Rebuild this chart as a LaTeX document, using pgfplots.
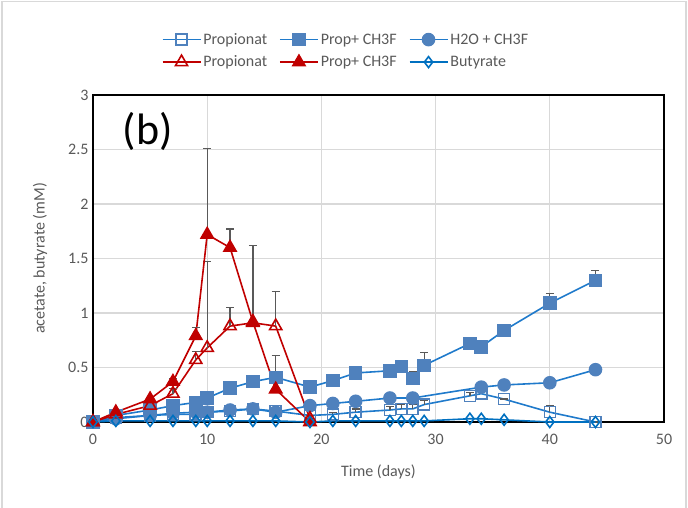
\documentclass[border=0pt]{standalone}
\usepackage{fontspec}
\setmainfont{Carlito}
\usepackage{pgfplots}
\pgfplotsset{compat=1.18}
\usepackage{pgfplotstable}
\definecolor{bmark}{HTML}{4F81BD}
\definecolor{bline}{HTML}{1F7ACB}
\definecolor{dblue}{HTML}{0070C0}
\definecolor{dred}{HTML}{C00000}
\definecolor{errc}{HTML}{595959}
\definecolor{gridc}{HTML}{D9D9D9}
\definecolor{txt}{HTML}{595959}

\pgfplotstableread{
x y e
0 0 0
2 0.04 0
5 0.06 0
7 0.07 0
9 0.07 0
10 0.09 0
12 0.1 0
14 0.12 0
16 0.1 0
19 0.06 0
21 0.07 0.02
23 0.09 0.03
26 0.11 0.03
27 0.12 0.04
28 0.12 0.04
29 0.16 0.04
33 0.24 0.03
34 0.26 0.03
36 0.21 0
40 0.09 0.06
44 0 0
}\propblue

\pgfplotstableread{
x y e
0 0 0
2 0.06 0
5 0.11 0
7 0.15 0
9 0.18 0
10 0.22 0
12 0.31 0
14 0.37 0
16 0.41 0
19 0.32 0
21 0.38 0
23 0.45 0
26 0.47 0
27 0.51 0
28 0.40 0.06
29 0.52 0.12
33 0.72 0
34 0.69 0.03
36 0.84 0.05
40 1.09 0.09
44 1.30 0.09
}\propchblue

\pgfplotstableread{
x y
0 0
2 0.03
5 0.06
7 0.08
9 0.09
10 0.09
12 0.11
14 0.12
16 0.09
19 0.15
21 0.17
23 0.19
26 0.22
28 0.22
34 0.32
36 0.34
40 0.36
44 0.48
}\water

\pgfplotstableread{
x y e
0 0 0
2 0.07 0
5 0.15 0
7 0.26 0.05
9 0.57 0.08
10 0.68 0.79
12 0.88 0.17
14 0.91 0
16 0.88 0.32
19 0.03 0
}\propred

\pgfplotstableread{
x y e
0 0 0
2 0.09 0
5 0.21 0
7 0.37 0.03
9 0.79 0.08
10 1.72 0.79
12 1.60 0.17
14 0.92 0.70
16 0.30 0.31
19 0 0
}\propchred

\pgfplotstableread{
x y
0 0
2 0.01
5 0.01
7 0.01
9 0.01
10 0.01
12 0.01
14 0.01
16 0.01
19 0
21 0.01
23 0.01
26 0.01
27 0.01
28 0.01
29 0.01
33 0.03
34 0.03
36 0.02
40 0
44 0
}\butyrate

\begin{document}
\begin{tikzpicture}[x=1pt,y=1pt]
\useasboundingbox (0,0) rectangle (688,507);
\draw[gridc, line width=1.5pt] (2,-5) rectangle (686,505.5);
\begin{axis}[
  at={(93pt,85pt)}, anchor=south west,
  scale only axis, width=571pt, height=327pt,
  xmin=0, xmax=50, ymin=0, ymax=3,
  xtick={0,10,...,50},
  ytick={0,0.5,1,1.5,2,2.5,3},
  yticklabels={0,0.5,1,1.5,2,2.5,3},
  /pgf/number format/assume math mode=true,
  grid=major,
  major grid style={gridc, line width=1.2pt},
  axis line style={black, line width=1.3pt},
  major tick length=0pt,
  tick label style={font=\fontsize{16}{19}\selectfont, text=txt},
  xticklabel style={yshift=-9pt},
  yticklabel style={xshift=-1pt},
  xlabel={Time (days)},
  ylabel={acetate, butyrate (mM)},
  every axis x label/.style={at={(axis description cs:0.5,0)}, anchor=center, yshift=-50pt, font=\fontsize{16}{19}\selectfont, text=txt},
  every axis y label/.style={at={(axis description cs:0,0.5)}, anchor=center, xshift=-53pt, rotate=90, font=\fontsize{16}{19}\selectfont, text=txt},
  clip=false,
  legend columns=3,
  legend style={draw=none, fill=none, at={(axis description cs:0.443,1.135)}, anchor=center,
    font=\fontsize{16}{19}\selectfont, text=txt,
    /tikz/every even column/.append style={column sep=10pt},
    row sep=6pt},
  legend cell align=left,
  legend image code/.code={\draw[mark repeat=2,mark phase=2] plot coordinates {(0pt,0pt) (19pt,0pt) (38pt,0pt)};},
  every axis plot/.append style={line width=1.6pt},
  error bars/y dir=plus, error bars/y explicit,
  error bars/error bar style={errc, line width=1.3pt},
  error bars/error mark options={errc, rotate=90, mark size=4pt, line width=1.3pt},
]
\addplot[bline, mark=square, mark size=5.5pt, mark options={draw=bmark, fill=white, line width=1.6pt}]
  table[x=x, y=y, y error=e] {\propblue};
\addlegendentry{Propionat}
\addplot[bline, mark=square*, mark size=6pt, mark options={draw=bmark, fill=bmark}]
  table[x=x, y=y, y error=e] {\propchblue};
\addlegendentry{Prop+ CH3F}
\addplot[bline, mark=*, mark size=6pt, mark options={draw=bmark, fill=bmark}, error bars/y dir=none]
  table[x=x, y=y] {\water};
\addlegendentry{H2O + CH3F}
\addplot[dred, mark=triangle, mark size=7pt, mark options={draw=dred, fill=white, line width=1.6pt}]
  table[x=x, y=y, y error=e] {\propred};
\addlegendentry{Propionat}
\addplot[dred, mark=triangle*, mark size=7pt, mark options={draw=dred, fill=dred}]
  table[x=x, y=y, y error=e] {\propchred};
\addlegendentry{Prop+ CH3F}
\addplot[dblue, mark=diamond, mark size=5.5pt, mark options={draw=dblue, fill=white, line width=1.6pt}, error bars/y dir=none]
  table[x=x, y=y] {\butyrate};
\addlegendentry{Butyrate}
\node[font=\fontsize{44}{50}\selectfont, anchor=center] at (axis description cs:0.096,0.887) {(b)};
\end{axis}
\end{tikzpicture}
\end{document}
